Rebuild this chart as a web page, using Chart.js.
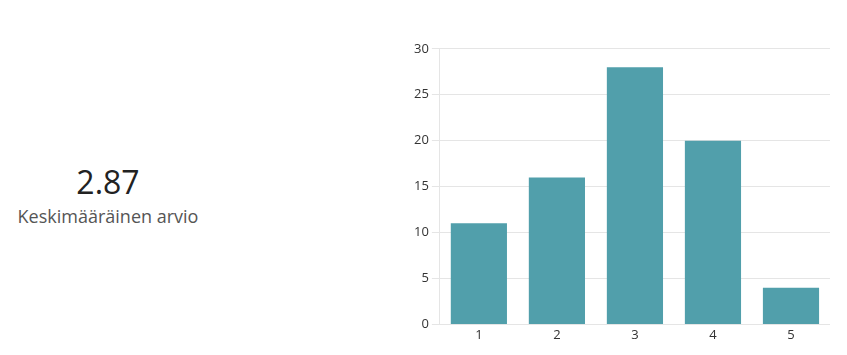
<!DOCTYPE html>
<html>
<head>
<meta charset="utf-8">
<script src="https://cdn.jsdelivr.net/npm/chart.js@4"></script>
<style>
  body { margin: 0; background: #fff; font-family: "Open Sans", sans-serif; }
  #avg { position: absolute; left: 0; width: 216px; top: 160px; text-align: center; }
  #avg .num { font-size: 32px; color: #222; line-height: 44px; }
  #avg .lbl { font-size: 18px; color: #555; line-height: 24px; }
  #wrap { position: absolute; left: 411px; top: 38px; width: 419px; height: 308px; }
</style>
</head>
<body>
<div id="avg">
  <div class="num">2.87</div>
  <div class="lbl">Keskimääräinen arvio</div>
</div>
<div id="wrap"><canvas id="myChart"></canvas></div>
<script>
let labels = ['1', '2', '3', '4', '5'];
let counts = [11, 16, 28, 20, 4];
let barColor = '#519fab';

Chart.defaults.font.family = '"Open Sans", sans-serif';
Chart.defaults.font.size = 13;
Chart.defaults.color = '#333';

let ctx = document.getElementById('myChart').getContext('2d');
let myChart = new Chart(ctx, {
  type: 'bar',
  data: {
    labels: labels,
    datasets: [{
      data: counts,
      backgroundColor: barColor
    }]
  },
  options: {
    responsive: true,
    maintainAspectRatio: false,
    animation: false,
    plugins: {
      legend: { display: false },
      tooltip: { enabled: false }
    },
    scales: {
      x: {
        grid: { display: false, drawTicks: false },
        border: { color: '#e5e5e5' }
      },
      y: {
        min: 0,
        max: 30,
        ticks: { stepSize: 5 },
        grid: { color: '#e5e5e5' },
        border: { color: '#e5e5e5' }
      }
    }
  }
})
</script>
</body>
</html>
